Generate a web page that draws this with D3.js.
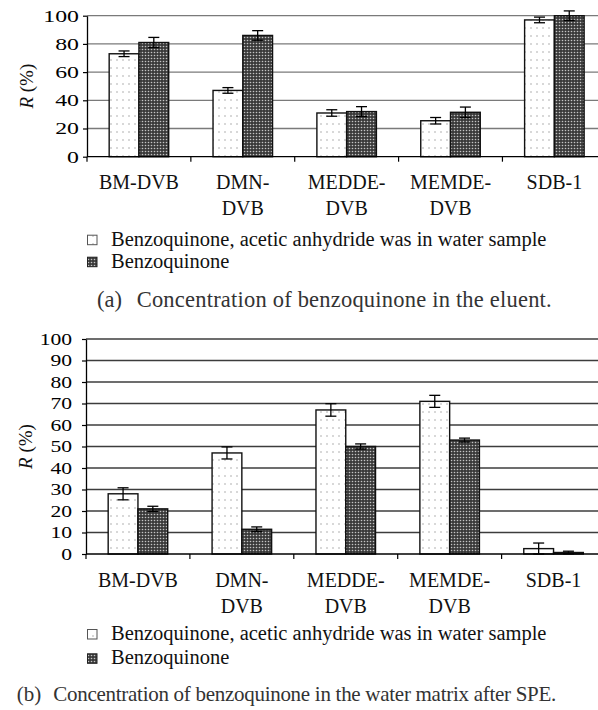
<!DOCTYPE html>
<html>
<head>
<meta charset="utf-8">
<script src="https://cdn.jsdelivr.net/npm/d3@7"></script>
<style>
body { margin: 0; background: #fff; }
svg text { font-family: "Liberation Serif", "Times New Roman", serif; }
</style>
</head>
<body>
<svg id="chart" width="598" height="710"></svg>
<script>
const categories = ["BM-DVB", "DMN-DVB", "MEDDE-DVB", "MEMDE-DVB", "SDB-1"];
const labelLines = [["BM-DVB"], ["DMN-", "DVB"], ["MEDDE-", "DVB"], ["MEMDE-", "DVB"], ["SDB-1"]];
const seriesNames = ["Benzoquinone, acetic anhydride was in water sample", "Benzoquinone"];

// (a) eluent
const eluentAnhydride = [73, 47, 31, 25.5, 97];
const eluentAnhydrideErr = [2, 2, 2.3, 2.3, 2];
const eluentPlain = [81, 86, 32, 31.5, 100];
const eluentPlainErr = [3.6, 3.4, 3.5, 3.7, 3.4];
const eluentTicks = [0, 20, 40, 60, 80, 100];

// (b) water matrix after SPE
const matrixAnhydride = [28, 47, 67, 71, 2.5];
const matrixAnhydrideErr = [2.8, 2.8, 2.9, 2.8, 2.6];
const matrixPlain = [21, 11.5, 50, 53, 0.7];
const matrixPlainErr = [1.2, 1.1, 1.2, 0.9, 0.6];
const matrixTicks = [0, 10, 20, 30, 40, 50, 60, 70, 80, 90, 100];

const svg = d3.select("#chart");
const defs = svg.append("defs");

// dotted fill
const dots = defs.append("pattern").attr("id", "dots")
    .attr("patternUnits", "userSpaceOnUse").attr("width", 6).attr("height", 8);
dots.append("rect").attr("width", 6).attr("height", 8).attr("fill", "#fff");
dots.append("rect").attr("x", 2.5).attr("y", 3.5).attr("width", 1).attr("height", 1).attr("fill", "#666");

// dark woven fill
const weave = defs.append("pattern").attr("id", "weave")
    .attr("patternUnits", "userSpaceOnUse").attr("width", 3).attr("height", 3);
weave.append("rect").attr("width", 3).attr("height", 3).attr("fill", "#3a3a3a");
weave.append("circle").attr("cx", 1.5).attr("cy", 1.5).attr("r", 0.8).attr("fill", "#c4c4c4");

const fills = ["url(#dots)", "url(#weave)"];

function drawPanel(p) {
    const g = svg.append("g");
    const x = d3.scaleBand().domain(categories).range([p.left, p.right]).paddingInner(0).paddingOuter(0);
    const xs = d3.scaleBand().domain([0, 1]).range([0, x.bandwidth()]).paddingInner(0).paddingOuter(0.745);
    const y = d3.scaleLinear().domain([0, 100]).range([p.bottom, p.top]);

    // grid
    g.selectAll(".grid").data(p.ticks.filter(t => t > 0)).join("line")
        .attr("x1", p.left).attr("x2", p.right)
        .attr("y1", d => y(d)).attr("y2", d => y(d))
        .attr("stroke", p.gridColor).attr("stroke-width", 1.3);

    // y axis
    const ay = g.append("g").attr("transform", `translate(${p.left},0)`)
        .call(d3.axisLeft(y).tickValues(p.ticks).tickSize(4).tickSizeOuter(0));
    ay.select(".domain").attr("stroke", "#000").attr("stroke-width", 1.3);
    ay.selectAll(".tick line").attr("stroke", "#000").attr("stroke-width", 1.2);
    ay.selectAll(".tick text")
        .attr("font-size", 17).attr("fill", "#000")
        .attr("text-anchor", "end")
        .attr("x", -p.labelGap / p.stretch)
        .attr("transform", `scale(${p.stretch},1)`);

    // bars
    p.series.forEach((s, si) => {
        g.selectAll(null).data(s.values).join("rect")
            .attr("x", (d, i) => x(categories[i]) + xs(si))
            .attr("width", xs.bandwidth())
            .attr("y", d => y(d))
            .attr("height", d => y(0) - y(d))
            .attr("fill", fills[si]).attr("stroke", "#111").attr("stroke-width", 1.4);
    });

    // error bars
    p.series.forEach((s, si) => {
        s.values.forEach((v, i) => {
            const cx = x(categories[i]) + xs(si) + xs.bandwidth() / 2;
            const e = s.errors[i];
            const eb = g.append("g").attr("stroke", "#000").attr("stroke-width", 1.3);
            eb.append("line").attr("x1", cx).attr("x2", cx).attr("y1", y(v + e)).attr("y2", y(Math.max(0, v - e)));
            eb.append("line").attr("x1", cx - 5.5).attr("x2", cx + 5.5).attr("y1", y(v + e)).attr("y2", y(v + e));
            eb.append("line").attr("x1", cx - 5.5).attr("x2", cx + 5.5).attr("y1", y(Math.max(0, v - e))).attr("y2", y(Math.max(0, v - e)));
        });
    });

    // x axis line + category boundary ticks
    g.append("line").attr("x1", p.left).attr("x2", p.right).attr("y1", y(0)).attr("y2", y(0))
        .attr("stroke", "#000").attr("stroke-width", 1.3);
    const bounds = categories.map(c => x(c)).concat([p.right]);
    g.selectAll(null).data(bounds).join("line")
        .attr("x1", d => d).attr("x2", d => d).attr("y1", y(0)).attr("y2", y(0) + 5)
        .attr("stroke", "#000").attr("stroke-width", 1.2);

    // category labels
    labelLines.forEach((lines, i) => {
        const t = g.append("text").attr("text-anchor", "middle").attr("font-size", 20).attr("fill", "#111");
        lines.forEach((ln, k) => {
            t.append("tspan").attr("x", x(categories[i]) + x.bandwidth() / 2)
                .attr("y", p.catY + k * 26).text(ln);
        });
    });

    // y label
    const yl = g.append("text")
        .attr("transform", `translate(${p.yLabelX},${(p.top + p.bottom) / 2}) rotate(-90)`)
        .attr("text-anchor", "middle").attr("font-size", 19).attr("fill", "#111");
    yl.append("tspan").attr("font-style", "italic").text("R");
    yl.append("tspan").text(" (%)");

    // legend
    seriesNames.forEach((name, si) => {
        const by = p.legendY[si];
        g.append("rect").attr("x", 87.5).attr("y", by - 10.5).attr("width", 9.5).attr("height", 9.5)
            .attr("fill", fills[si]).attr("stroke", si === 0 ? "#555" : "#222").attr("stroke-width", 1);
        g.append("text").attr("x", 111).attr("y", by).attr("font-size", 20.5).attr("fill", "#111").text(name);
    });

    // caption
    g.append("text").attr("x", p.capX).attr("y", p.capY).attr("font-size", p.capSize).attr("fill", "#333").text(p.capTag);
    g.append("text").attr("x", p.capTextX).attr("y", p.capY).attr("font-size", p.capSize).attr("fill", "#333")
        .attr("textLength", p.capLen).attr("lengthAdjust", "spacing").text(p.caption);
}

drawPanel({
    left: 87, right: 606.3, top: 15.7, bottom: 156.7,
    ticks: eluentTicks, gridColor: "#7a7a7a", labelGap: 8, stretch: 1.4,
    series: [
        { values: eluentAnhydride, errors: eluentAnhydrideErr },
        { values: eluentPlain, errors: eluentPlainErr }
    ],
    catY: 188.5, yLabelX: 32.5, legendY: [245.7, 267.7],
    capX: 97, capTextX: 136.7, capY: 306.7, capLen: 415, capSize: 22.5, capTag: "(a)",
    caption: "Concentration of benzoquinone in the eluent."
});

drawPanel({
    left: 86, right: 605.5, top: 339, bottom: 554,
    ticks: matrixTicks, gridColor: "#3c3c3c", labelGap: 14, stretch: 1.27,
    series: [
        { values: matrixAnhydride, errors: matrixAnhydrideErr },
        { values: matrixPlain, errors: matrixPlainErr }
    ],
    catY: 586.5, yLabelX: 31.5, legendY: [640, 664.3],
    capX: 16.7, capTextX: 53.3, capY: 700.5, capLen: 503, capSize: 21, capTag: "(b)",
    caption: "Concentration of benzoquinone in the water matrix after SPE."
});
</script>
</body>
</html>
